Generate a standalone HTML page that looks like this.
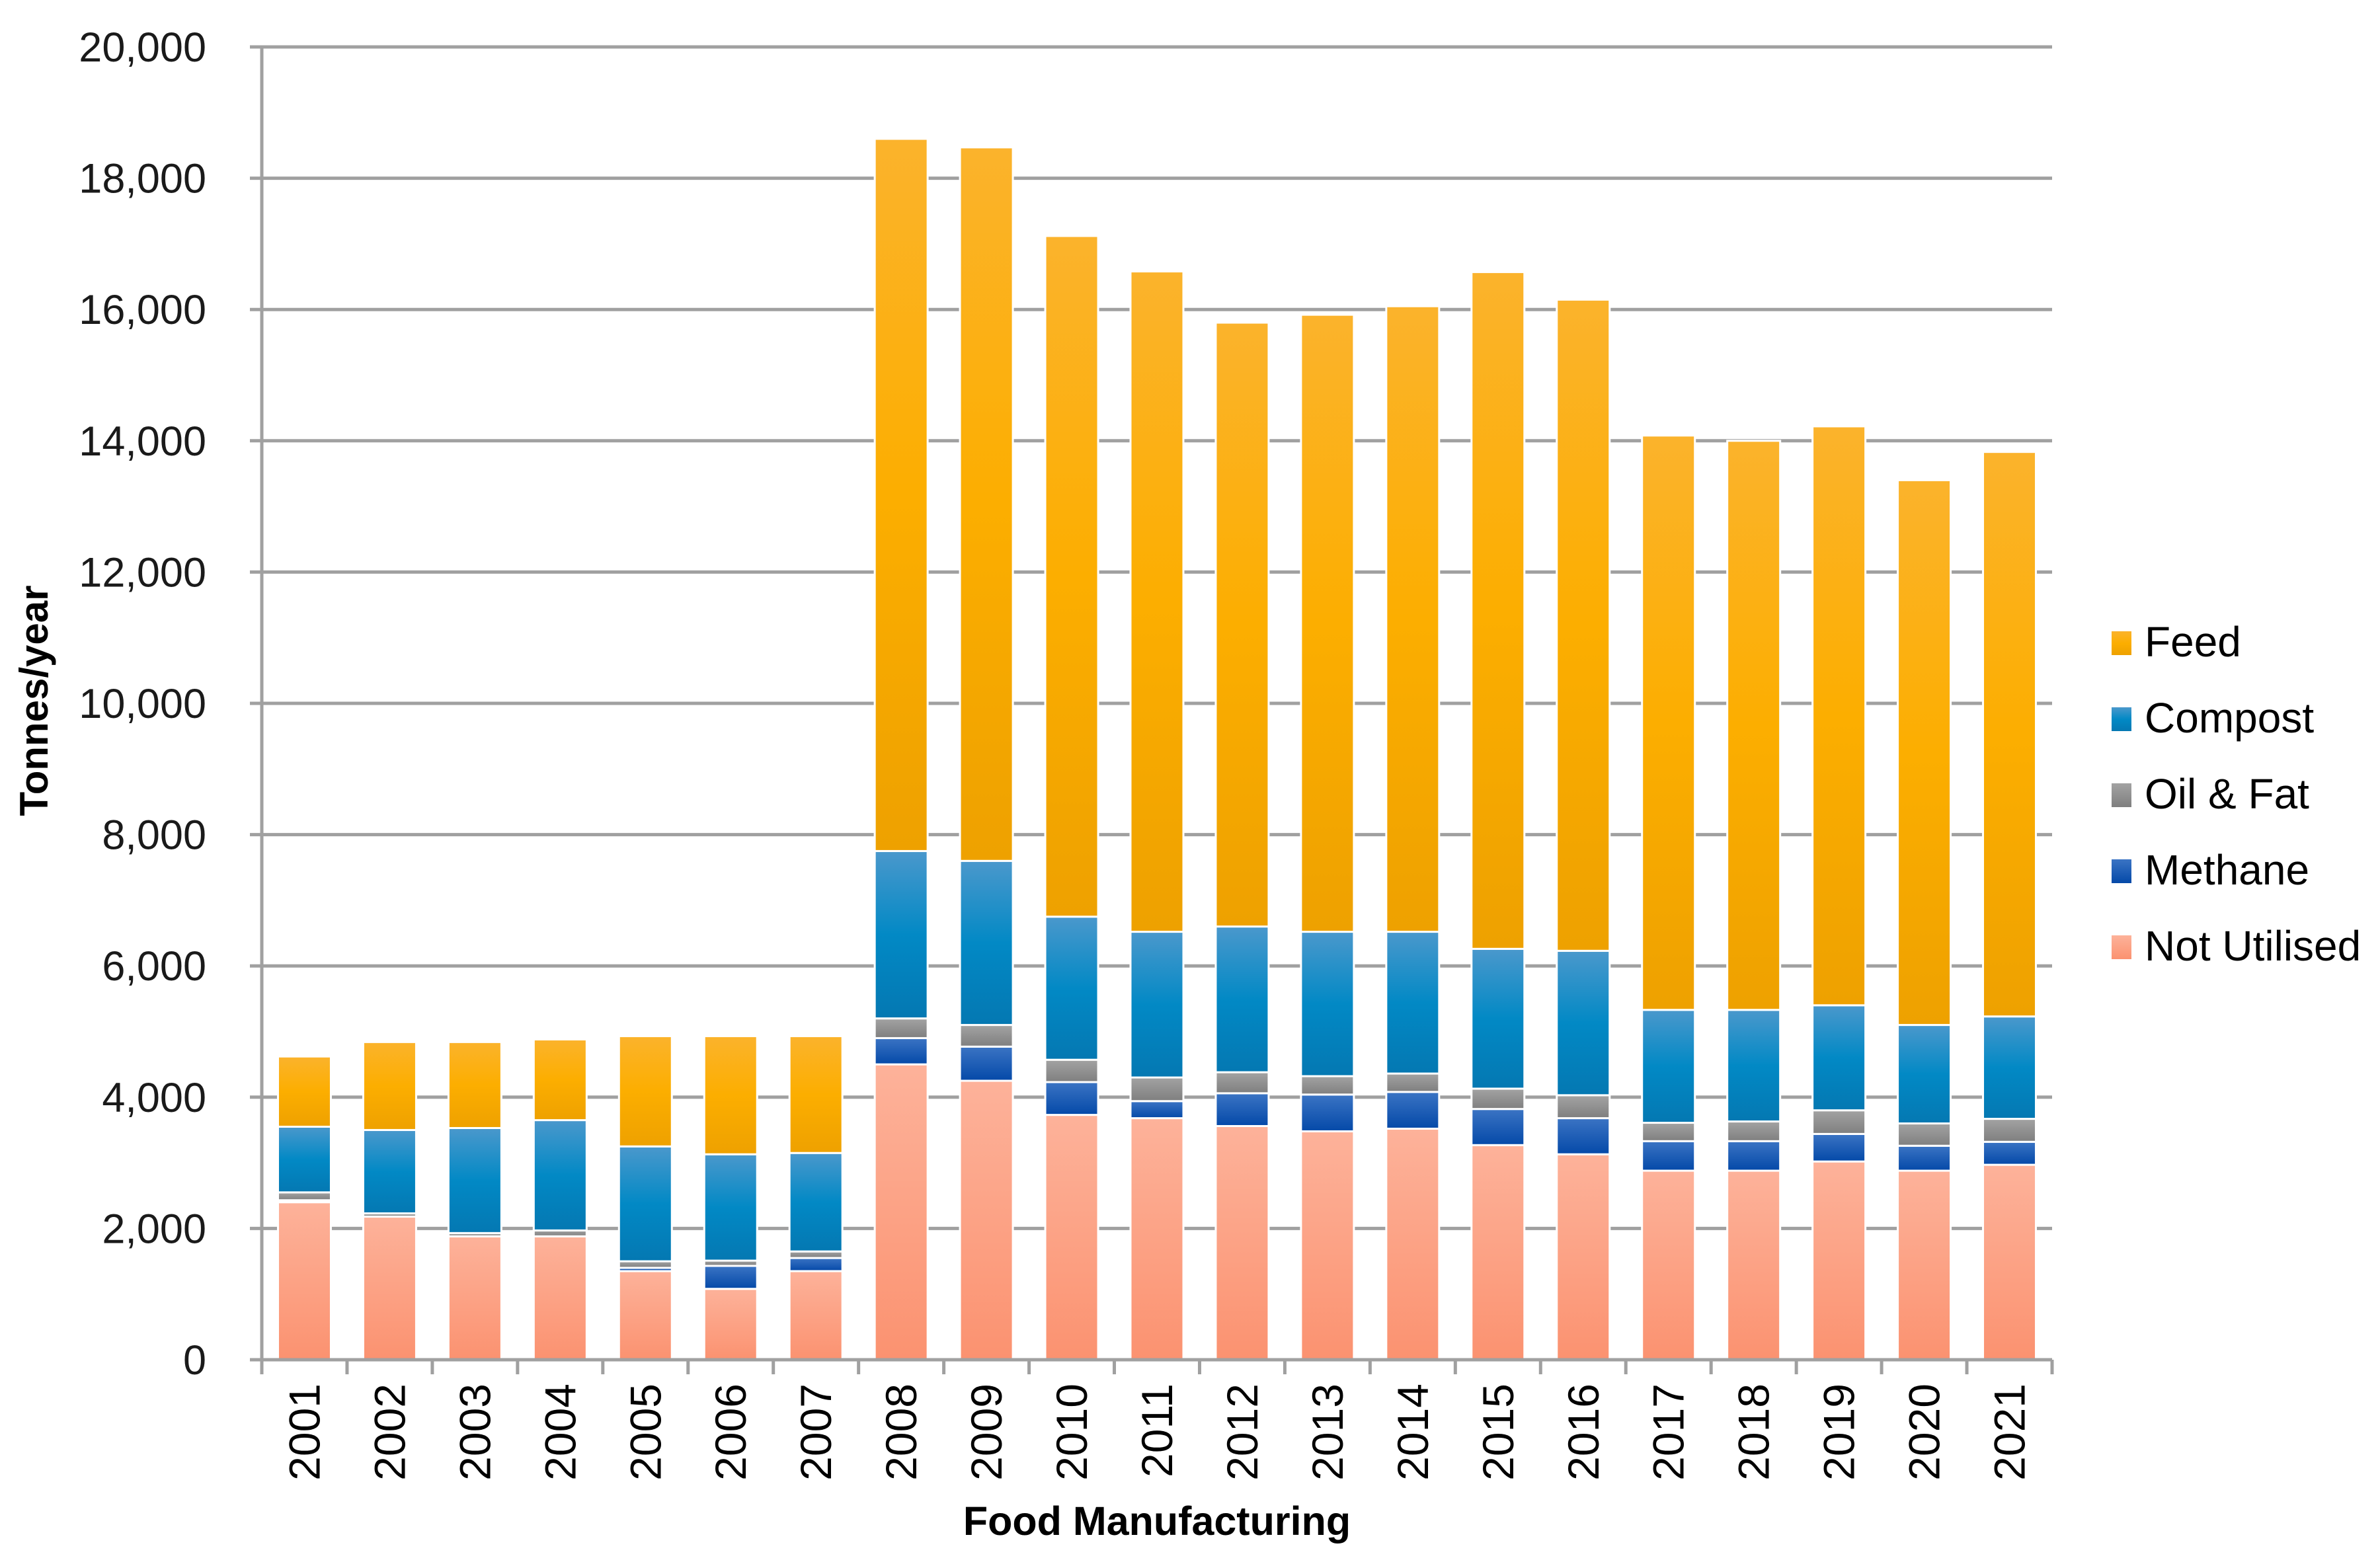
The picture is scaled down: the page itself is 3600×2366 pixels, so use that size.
<!DOCTYPE html>
<html><head><meta charset="utf-8"><style>
html,body{margin:0;padding:0;background:#fff;}
svg{display:block;font-family:"Liberation Sans",sans-serif;}
</style></head><body>
<svg id="chart" width="3600" height="2366" viewBox="0 0 3600 2366">
<defs>
<linearGradient id="gFeed" x1="0" y1="0" x2="0" y2="1"><stop offset="0" stop-color="#fbb32c"/><stop offset="0.5" stop-color="#fcae00"/><stop offset="1" stop-color="#eea100"/></linearGradient>
<linearGradient id="gCompost" x1="0" y1="0" x2="0" y2="1"><stop offset="0" stop-color="#4a98cc"/><stop offset="0.5" stop-color="#0289c5"/><stop offset="1" stop-color="#0478b2"/></linearGradient>
<linearGradient id="gOil" x1="0" y1="0" x2="0" y2="1"><stop offset="0" stop-color="#a3a3a3"/><stop offset="1" stop-color="#7f7f7f"/></linearGradient>
<linearGradient id="gMethane" x1="0" y1="0" x2="0" y2="1"><stop offset="0" stop-color="#3b74c4"/><stop offset="1" stop-color="#0449a8"/></linearGradient>
<linearGradient id="gNU" x1="0" y1="0" x2="0" y2="1"><stop offset="0" stop-color="#fdb29a"/><stop offset="1" stop-color="#fb9270"/></linearGradient>
</defs>
<g id="grid"></g>
<g id="bars"></g>
<g id="axes"></g>
<text x="72" y="1060" transform="rotate(-90 72 1060)" text-anchor="middle" font-weight="bold" font-size="60" fill="#000">Tonnes/year</text>
<text x="1750" y="2322" text-anchor="middle" font-weight="bold" font-size="61" fill="#000">Food Manufacturing</text>
<g id="legend"></g>
</svg>
<script>
const categories = ["2001","2002","2003","2004","2005","2006","2007","2008","2009","2010","2011","2012","2013","2014","2015","2016","2017","2018","2019","2020","2021"];
const notUtilised = [2400,2180,1880,1880,1350,1080,1350,4500,4250,3730,3680,3560,3480,3520,3270,3130,2880,2880,3020,2880,2970];
const methane     = [30,0,0,0,50,350,200,400,520,500,260,500,560,560,550,550,450,450,420,380,350];
const oilFat      = [120,50,50,90,100,80,100,300,330,340,360,320,280,280,310,350,280,300,360,340,350];
const compost     = [1000,1270,1600,1680,1750,1620,1500,2550,2500,2180,2220,2220,2200,2160,2130,2200,1720,1700,1600,1500,1560];
const feed        = [1070,1340,1310,1230,1680,1800,1780,10850,10870,10370,10060,9200,9400,9530,10310,9920,8750,8670,8820,8300,8600];
const yTicks = [0,2000,4000,6000,8000,10000,12000,14000,16000,18000,20000];
const seriesNames = ["Not Utilised","Methane","Oil & Fat","Compost","Feed"];

const NS="http://www.w3.org/2000/svg";
const X0=396, X1=3104, Y0=2057, Y1=71, YMAX=20000;
const band=(X1-X0)/categories.length, barW=80;
const y=v=>Y0-(v/YMAX)*(Y0-Y1);
const xc=i=>X0+band*(i+0.5);
function mk(tag,attrs,parent){const e=document.createElementNS(NS,tag);for(const k in attrs)e.setAttribute(k,attrs[k]);parent.appendChild(e);return e;}
const grid=document.getElementById('grid'),bars=document.getElementById('bars'),axes=document.getElementById('axes'),legend=document.getElementById('legend');

yTicks.forEach(t=>{
  const l=mk('line',{x1:X0-18,x2:X1,y1:y(t),y2:y(t),stroke:'#a0a0a0','stroke-width':5},grid);
  
  
  const tx=mk('text',{x:312,y:y(t)+22,'text-anchor':'end','font-size':63,fill:'#1a1a1a'},axes);
  tx.textContent=t.toLocaleString('en-US');
  
  
});
const ya=mk('line',{x1:X0,x2:X0,y1:Y1,y2:Y0+22,stroke:'#a0a0a0','stroke-width':5},axes);


for(let i=0;i<=categories.length;i++){
  const tk=mk('line',{x1:X0+band*i,x2:X0+band*i,y1:Y0,y2:Y0+22,stroke:'#a0a0a0','stroke-width':5},axes);
  
  
}

const series=[notUtilised,methane,oilFat,compost,feed];
const fills=['url(#gNU)','url(#gMethane)','url(#gOil)','url(#gCompost)','url(#gFeed)'];
categories.forEach((c,i)=>{
  let base=0;
  series.forEach((s,k)=>{
    const v=s[i];
    if(v>0){
      const top=y(base+v),bot=y(base);
      const r=mk('rect',{x:xc(i)-barW/2,y:top,width:barW,height:Math.max(0,bot-top),fill:fills[k],stroke:'#fff','stroke-width':3},bars);
      
      
    }
    base+=v;
  });
  const lbl=mk('text',{x:0,y:0,'font-size':66,fill:'#000','text-anchor':'end',transform:'translate('+(xc(i)+23)+','+(Y0+36)+') rotate(-90)'},axes);
  lbl.textContent=c;
  
  
});
const xa=mk('line',{x1:X0-18,x2:X1,y1:Y0,y2:Y0,stroke:'#a0a0a0','stroke-width':5},axes);



const legY=[1447,1332,1217,1102,987];
seriesNames.forEach((n,k)=>{
  const g=mk('g',{},legend);
  
  
  mk('rect',{x:3194,y:legY[k]-32,width:30,height:36,fill:fills[k]},g);
  const t=mk('text',{x:3244,y:legY[k]+6,'font-size':64,fill:'#000'},g);
  t.textContent=n;
});
</script>
</body></html>
